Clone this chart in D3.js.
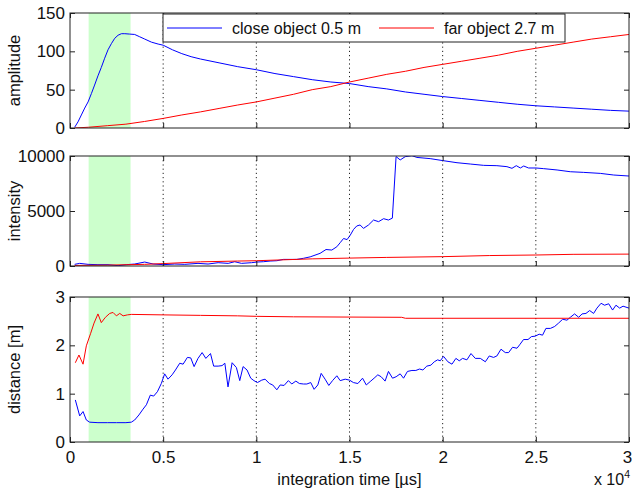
<!DOCTYPE html>
<html>
<head>
<meta charset="utf-8">
<script src="https://cdn.jsdelivr.net/npm/d3@7"></script>
<style>
  body { margin: 0; background: #fff; }
  svg { display: block; font-family: "Liberation Sans", Arial, sans-serif; }
  .tick line { stroke: #222; }
  .tick text { font-size: 17px; fill: #111; }
</style>
</head>
<body>
<div id="chart"></div>
<script>
// integration time in microseconds, value pairs
var ampClose = [[250,1],[430,8],[610,17],[790,26],[970,34],[1150,45],[1320,56],[1500,68],[1680,79],[1860,91],[2040,102],[2220,110],[2400,117],[2580,121],[2760,123],[2940,123],[3200,122.5],[3470,122],[3740,119],[4010,116],[4370,112],[4730,109.5],[5000,108],[5500,102],[6000,97],[6500,93],[7000,90],[8000,85],[9000,80],[10000,76],[11000,71],[12000,67],[13000,63],[14000,60],[15000,58],[16000,54],[17000,51],[18000,47],[19000,44],[20000,41],[21000,38.5],[22000,36],[23000,33.5],[24000,31],[25000,29],[26000,27.5],[27000,26],[28000,24.5],[29000,23],[30000,22]];
var ampFar = [[250,0],[1000,1],[2000,3],[3000,5],[4000,8.5],[5000,12.5],[6000,17],[7000,21],[8000,25.5],[9000,30],[10000,34],[11000,39],[12000,44],[13000,50],[14000,54],[15000,60],[16000,65],[17000,70],[18000,74],[19000,79],[20000,83],[21000,87],[22000,91],[23000,95],[24000,100],[25000,104],[26000,108],[27000,112],[28000,116],[29000,119],[30000,122]];

var intClose = [[250,150],[520,240],[970,150],[1500,120],[2040,120],[2580,30],[3020,120],[3470,180],[4010,360],[4460,180],[5000,120],[5620,180],[6160,150],[6870,240],[7410,180],[7950,300],[8490,240],[8840,390],[9200,240],[9740,300],[10030,360],[10380,390],[10740,450],[11100,480],[11460,600],[11810,600],[12170,600],[12530,700],[12890,830],[13420,1150],[13740,1500],[14050,1450],[14320,1750],[14500,2120],[14680,2500],[14870,2400],[15040,2800],[15220,3330],[15390,3640],[15570,3730],[15750,3420],[16020,3730],[16290,4180],[16560,4030],[16830,4300],[17090,4180],[17300,4350],[17500,9950],[17720,9640],[17990,9940],[18350,10030],[18620,9870],[19330,9760],[20050,9570],[20770,9390],[21480,9270],[22200,9150],[22910,9120],[23450,9030],[23720,8880],[23950,9120],[24170,8910],[24350,9090],[24610,8910],[25010,8910],[25420,8850],[26140,8730],[26850,8570],[27570,8510],[28460,8420],[29180,8270],[30000,8180]];
var intFar = [[250,50],[2000,80],[4000,150],[5000,220],[7000,380],[9000,450],[10000,480],[13000,650],[15000,720],[17000,780],[20000,850],[22500,950],[25000,1000],[27000,1060],[30000,1080]];

var distClose = [[286,0.87],[520,0.54],[700,0.63],[877,0.455],[1056,0.41],[1500,0.40],[2000,0.40],[2500,0.40],[3000,0.40],[3290,0.41],[3470,0.455],[3700,0.56],[3920,0.68],[4100,0.77],[4310,0.97],[4490,0.95],[4690,1.04],[4900,1.21],[5080,1.41],[5260,1.30],[5480,1.39],[5660,1.49],[5890,1.63],[6070,1.61],[6300,1.75],[6480,1.74],[6660,1.56],[6870,1.73],[7090,1.85],[7290,1.73],[7540,1.83],[7710,1.57],[7950,1.57],[8160,1.58],[8310,1.63],[8480,1.14],[8700,1.64],[8930,1.54],[9110,1.27],[9290,1.56],[9500,1.49],[9700,1.32],[9870,1.27],[10060,1.23],[10290,1.28],[10470,1.30],[10700,1.21],[10880,1.18],[11100,1.08],[11280,1.18],[11490,1.17],[11720,1.27],[11900,1.20],[12120,1.26],[12310,1.21],[12530,1.20],[12710,1.20],[12920,1.23],[13100,1.09],[13300,1.18],[13480,1.42],[13690,1.30],[13890,1.17],[14090,1.27],[14320,1.37],[14500,1.27],[14770,1.30],[15000,1.28],[15210,1.23],[15450,1.21],[15700,1.32],[15900,1.18],[16110,1.25],[16320,1.32],[16520,1.39],[16700,1.35],[16910,1.26],[17090,1.46],[17310,1.32],[17500,1.35],[17720,1.41],[17900,1.32],[18110,1.46],[18350,1.48],[18560,1.48],[18760,1.51],[18940,1.49],[19150,1.57],[19370,1.59],[19550,1.66],[19730,1.70],[19870,1.68],[20050,1.77],[20280,1.66],[20500,1.61],[20710,1.73],[20890,1.68],[21070,1.73],[21300,1.70],[21520,1.83],[21750,1.73],[22020,1.73],[22290,1.66],[22500,1.78],[22730,1.75],[22910,1.78],[23130,1.92],[23360,1.85],[23540,1.85],[23750,1.96],[23990,1.94],[24130,2.01],[24340,2.12],[24580,2.12],[24760,2.18],[24970,2.19],[25180,2.23],[25360,2.21],[25540,2.35],[25780,2.35],[26010,2.39],[26220,2.46],[26440,2.54],[26670,2.52],[26850,2.58],[27080,2.65],[27300,2.58],[27480,2.65],[27690,2.66],[27890,2.72],[28100,2.66],[28280,2.77],[28500,2.87],[28690,2.83],[28910,2.86],[29120,2.73],[29300,2.83],[29500,2.77],[29680,2.81],[30000,2.77]];
var distFar = [[286,1.64],[480,1.80],[700,1.61],[877,1.99],[1110,2.25],[1290,2.46],[1500,2.65],[1680,2.47],[1900,2.58],[2130,2.66],[2310,2.68],[2490,2.61],[2670,2.66],[2850,2.61],[3080,2.63],[3290,2.64],[5000,2.63],[7000,2.62],[9000,2.61],[10000,2.60],[12000,2.59],[17800,2.58],[18000,2.56],[30000,2.56]];

var xTicks = [0, 5000, 10000, 15000, 20000, 25000, 30000];
var gridTicks = [5000, 10000, 15000, 20000, 25000];
var band = [1000, 3250];   // shaded integration-time window
var legendLabels = ['close object 0.5 m', 'far object 2.7 m'];

var W = 632, H = 488;
var left = 70, right = 629;

var panels = [
  {top: 13, bottom: 128, domain: [0, 150], ticks: [0, 50, 100, 150], label: 'amplitude', series: [ampClose, ampFar]},
  {top: 156, bottom: 266, domain: [0, 10000], ticks: [0, 5000, 10000], label: 'intensity', series: [intClose, intFar]},
  {top: 297, bottom: 442, domain: [0, 3], ticks: [0, 1, 2, 3], label: 'distance [m]', series: [distClose, distFar]}
];
var colors = ['#0000ff', '#ff0000'];

var svg = d3.select('#chart').append('svg')
  .attr('width', W)
  .attr('height', H);

var x = d3.scaleLinear().domain([0, 30000]).range([left, right]);

panels.forEach(function(p, i) {
  var y = d3.scaleLinear().domain(p.domain).range([p.bottom, p.top]);
  var g = svg.append('g');

  g.append('clipPath').attr('id', 'clip' + i)
    .append('rect')
    .attr('x', left).attr('y', p.top)
    .attr('width', right - left).attr('height', p.bottom - p.top);

  // green band
  g.append('rect')
    .attr('x', x(band[0]))
    .attr('y', p.top)
    .attr('width', x(band[1]) - x(band[0]))
    .attr('height', p.bottom - p.top)
    .attr('fill', '#ccffcc');

  // dotted x grid
  g.selectAll('.grid')
    .data(gridTicks)
    .enter().append('line')
    .attr('x1', function(d) { return x(d); })
    .attr('x2', function(d) { return x(d); })
    .attr('y1', p.top)
    .attr('y2', p.bottom)
    .attr('stroke', '#222')
    .attr('stroke-width', 1)
    .attr('stroke-dasharray', '1.2,3');

  var line = d3.line()
    .x(function(d) { return x(d[0]); })
    .y(function(d) { return y(d[1]); });

  p.series.forEach(function(s, k) {
    g.append('path')
      .datum(s)
      .attr('clip-path', 'url(#clip' + i + ')')
      .attr('fill', 'none')
      .attr('stroke', colors[k])
      .attr('stroke-width', 1)
      .attr('d', line);
  });

  // axes with inward ticks
  g.append('g')
    .attr('transform', 'translate(' + left + ',0)')
    .call(d3.axisLeft(y).tickValues(p.ticks).tickSize(-5).tickSizeOuter(0).tickPadding(5)
      .tickFormat(function(d) { return String(d); }))
    .call(function(a) { a.select('.domain').remove(); });
  g.append('g')
    .attr('transform', 'translate(' + right + ',0)')
    .call(d3.axisRight(y).tickValues(p.ticks).tickSize(-5).tickSizeOuter(0).tickFormat(''))
    .call(function(a) { a.select('.domain').remove(); });
  g.append('g')
    .attr('transform', 'translate(0,' + p.top + ')')
    .call(d3.axisTop(x).tickValues(xTicks).tickSize(-5).tickSizeOuter(0).tickFormat(''))
    .call(function(a) { a.select('.domain').remove(); });
  var bottomAxis = d3.axisBottom(x).tickValues(xTicks).tickSize(-5).tickSizeOuter(0).tickPadding(9);
  if (i === 2) {
    bottomAxis.tickFormat(function(d) { return String(d / 10000); });
  } else {
    bottomAxis.tickFormat('');
  }
  var bx = g.append('g')
    .attr('transform', 'translate(0,' + p.bottom + ')')
    .call(bottomAxis)
    .call(function(a) { a.select('.domain').remove(); });
  // keep the last label inside the page
  bx.selectAll('.tick text').filter(function(d) { return d === 30000; }).attr('dx', -2);

  g.append('rect')
    .attr('x', left).attr('y', p.top)
    .attr('width', right - left).attr('height', p.bottom - p.top)
    .attr('fill', 'none')
    .attr('stroke', '#222')
    .attr('stroke-width', 1);

  svg.append('text')
    .attr('transform', 'translate(20,' + ((p.top + p.bottom) / 2) + ') rotate(-90)')
    .attr('text-anchor', 'middle')
    .attr('font-size', 16.5)
    .attr('fill', '#111')
    .text(p.label);
});

// legend
var lg = svg.append('g');
lg.append('rect')
  .attr('x', 163).attr('y', 14)
  .attr('width', 402).attr('height', 28)
  .attr('fill', '#fff')
  .attr('stroke', '#222');
var legendX = [167, 379];
legendLabels.forEach(function(t, k) {
  lg.append('line')
    .attr('x1', legendX[k]).attr('x2', legendX[k] + 55)
    .attr('y1', 28).attr('y2', 28)
    .attr('stroke', colors[k]);
  lg.append('text')
    .attr('x', legendX[k] + 65).attr('y', 34)
    .attr('font-size', 16)
    .attr('fill', '#111')
    .text(t);
});

// x label and exponent
svg.append('text')
  .attr('x', (left + right) / 2).attr('y', 485)
  .attr('text-anchor', 'middle')
  .attr('font-size', 16.5)
  .attr('fill', '#111')
  .text('integration time [µs]');
var ex = svg.append('text')
  .attr('x', 630).attr('y', 485)
  .attr('text-anchor', 'end')
  .attr('font-size', 16)
  .attr('fill', '#111');
ex.append('tspan').text('x 10');
ex.append('tspan').attr('font-size', 10.5).attr('dy', -7).text('4');
</script>
</body>
</html>
